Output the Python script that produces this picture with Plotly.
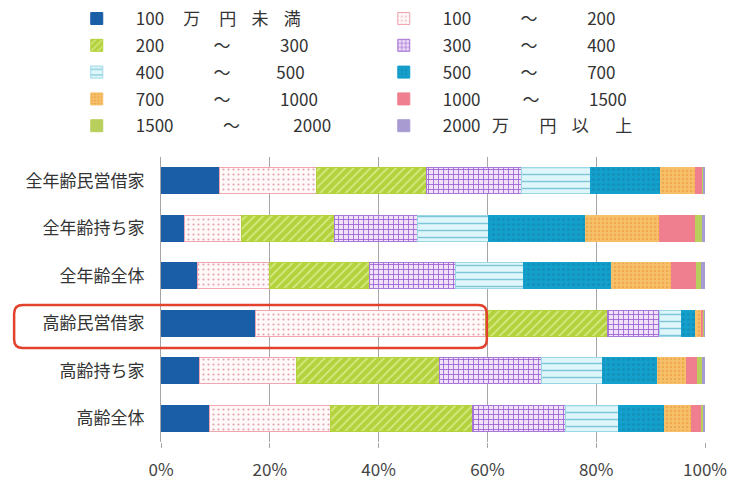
import plotly.graph_objects as go

# Household categories (top to bottom)
categories = ["全年齢民営借家", "全年齢持ち家", "全年齢全体", "高齢民営借家", "高齢持ち家", "高齢全体"]

# Income brackets (legend labels, spaced out as in the printed table)
NB = "\u00a0"
def spaced(*parts, gaps):
    out = NB * 5 + parts[0]
    for p, g in zip(parts[1:], gaps):
        out += NB * g + p
    return out

bracket_labels = [
    spaced("100", "万", "円", "未", "満", gaps=[5, 5, 4, 4]),
    spaced("100", "～", "200", gaps=[13, 13]),
    spaced("200", "～", "300", gaps=[13, 13]),
    spaced("300", "～", "400", gaps=[13, 13]),
    spaced("400", "～", "500", gaps=[13, 12]),
    spaced("500", "～", "700", gaps=[13, 13]),
    spaced("700", "～", "1000", gaps=[13, 13]),
    spaced("1000", "～", "1500", gaps=[11, 13]),
    spaced("1500", "～", "2000", gaps=[13, 14]),
    spaced("2000", "万", "円", "以", "上", gaps=[3, 8, 4, 7]),
]

# Share of households per bracket (%), one list per bracket, ordered like categories
under_100 = [10.8, 4.4, 6.7, 17.3, 7.0, 9.0]
b100_200 = [17.8, 10.4, 13.3, 42.3, 17.9, 22.1]
b200_300 = [20.2, 17.1, 18.3, 22.4, 26.3, 26.2]
b300_400 = [17.5, 15.3, 15.9, 9.7, 18.8, 17.1]
b400_500 = [12.6, 13.0, 12.4, 4.0, 11.2, 9.7]
b500_700 = [12.9, 17.9, 16.2, 2.6, 10.1, 8.4]
b700_1000 = [6.4, 13.6, 11.1, 1.1, 5.3, 5.0]
b1000_1500 = [1.4, 6.5, 4.6, 0.4, 2.1, 1.9]
b1500_2000 = [0.2, 1.4, 0.9, 0.1, 0.8, 0.4]
over_2000 = [0.2, 0.4, 0.6, 0.1, 0.5, 0.2]

series = [under_100, b100_200, b200_300, b300_400, b400_500,
          b500_700, b700_1000, b1000_1500, b1500_2000, over_2000]

# Fill styles per bracket
styles = [
    dict(color="#1b5ea8", shape="", fg=None, line="#1b5ea8", size=6, sol=0.3),
    dict(color="#fef8f9", shape=".", fg="#e4a4ad", line="#f0a6b0", size=5, sol=0.15),
    dict(color="#b4d23c", shape="/", fg="#d6ea86", line="#b4d23c", size=6, sol=0.3),
    dict(color="#efe2f8", shape="+", fg="#9a5cd0", line="#a878d6", size=5, sol=0.3),
    dict(color="#def5fa", shape="-", fg="#7cc6d8", line="#9ad8e6", size=7, sol=0.2),
    dict(color="#14a0cc", shape=".", fg="#1391bb", line="#14a0cc", size=5, sol=0.3),
    dict(color="#f6c06a", shape=".", fg="#eeaa4c", line="#f6c06a", size=4, sol=0.3),
    dict(color="#ef7f8e", shape="", fg=None, line="#ef7f8e", size=6, sol=0.3),
    dict(color="#b8cf5c", shape="", fg=None, line="#b8cf5c", size=6, sol=0.3),
    dict(color="#a89bd2", shape="", fg=None, line="#a89bd2", size=6, sol=0.3),
]

fig = go.Figure()
for i, (label, vals, st) in enumerate(zip(bracket_labels, series, styles)):
    marker = dict(color=st["color"], line=dict(color=st["line"], width=1))
    if st["shape"]:
        marker["pattern"] = dict(shape=st["shape"], fgcolor=st["fg"],
                                 bgcolor=st["color"], size=st["size"],
                                 solidity=st["sol"], fillmode="replace")
    fig.add_trace(go.Bar(
        y=categories, x=vals, name=label, orientation="h",
        marker=marker, hoverinfo="x+y+name",
        legend="legend" if i % 2 == 0 else "legend2",
        legendgroup=f"g{i}",
    ))

# Rounded highlight frame around the elderly private-rental row
x0, x1 = -0.270, 0.599
y0, y1 = 0.330, 0.481
rx, ry = 0.016, 0.030
path = (f"M {x0 + rx},{y0} L {x1 - rx},{y0} Q {x1},{y0} {x1},{y0 + ry} "
        f"L {x1},{y1 - ry} Q {x1},{y1} {x1 - rx},{y1} "
        f"L {x0 + rx},{y1} Q {x0},{y1} {x0},{y1 - ry} "
        f"L {x0},{y0 + ry} Q {x0},{y0} {x0 + rx},{y0} Z")

legend_common = dict(
    orientation="v",
    xref="container", yref="container",
    yanchor="top", xanchor="left",
    font=dict(family="Noto Sans CJK JP", size=17, color="#333333"),
    traceorder="grouped", tracegroupgap=1.7,
    bgcolor="rgba(0,0,0,0)",
)

# Percent tick labels
tick_vals = [0, 20, 40, 60, 80, 100]
tick_text = ["0%", "20%", "40%", "60%", "80%", "100%"]

fig.update_layout(
    barmode="stack",
    bargap=0.45,
    width=731, height=482,
    margin=dict(l=161, r=26, t=157, b=40, autoexpand=False),
    paper_bgcolor="white",
    plot_bgcolor="white",
    font=dict(family="Noto Sans CJK JP", size=15, color="#333333"),
    showlegend=True,
    legend=dict(x=0.105, y=0.998, **legend_common),
    legend2=dict(x=0.525, y=0.998, **legend_common),
    xaxis=dict(
        range=[0, 100],
        tickvals=tick_vals,
        ticktext=tick_text,
        ticklabeloverflow="allow",
        showgrid=True, gridcolor="#a6a6a6", gridwidth=1,
        zeroline=False,
        ticks="outside", ticklen=5, tickcolor="#a6a6a6",
        tickfont=dict(size=17, color="#444444"),
        ticklabelstandoff=8,
    ),
    yaxis=dict(
        autorange="reversed",
        showline=True, linecolor="#a6a6a6", linewidth=1,
        ticks="", ticklabelstandoff=12,
        tickfont=dict(size=17, color="#333333"),
    ),
    shapes=[dict(type="path", path=path, xref="paper", yref="paper",
                 line=dict(color="#e2412c", width=2.5), layer="above")],
)

fig.write_html("out.html")
